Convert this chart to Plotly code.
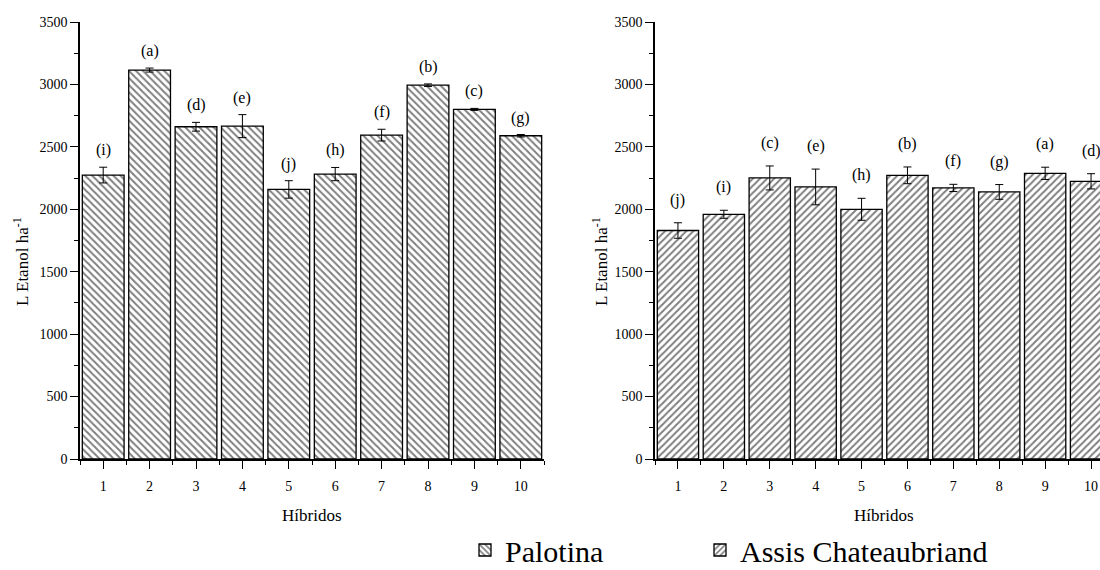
import plotly.graph_objects as go

hibridos = [1, 2, 3, 4, 5, 6, 7, 8, 9, 10]
palotina = [2274, 3115, 2661, 2666, 2159, 2282, 2594, 2994, 2800, 2589]
palotina_err = [63, 16, 35, 92, 70, 53, 47, 10, 8, 10]
palotina_letters = ["(i)", "(a)", "(d)", "(e)", "(j)", "(h)", "(f)", "(b)", "(c)", "(g)"]
assis = [1830, 1960, 2251, 2179, 2000, 2272, 2171, 2139, 2288, 2224]
assis_err = [62, 32, 96, 143, 88, 67, 29, 59, 49, 61]
assis_letters = ["(j)", "(i)", "(c)", "(e)", "(h)", "(b)", "(f)", "(g)", "(a)", "(d)"]
y_ticks = [0, 500, 1000, 1500, 2000, 2500, 3000, 3500]

FONT = "'Liberation Serif', 'Times New Roman', Times, serif"
W, H = 1100, 570
ML, MR, MT, MB = 80, 0, 22, 111
pw = W - ML - MR


def px_x(p):
    return (p - ML) / pw


fig = go.Figure()

fig.add_trace(go.Bar(
    x=hibridos, y=palotina, name="Palotina", xaxis="x", yaxis="y", legend="legend",
    width=0.9,
    marker=dict(color="white", line=dict(color="black", width=1.3),
                pattern=dict(shape="\\", fgcolor="black", bgcolor="white", size=5, solidity=0.4)),
    error_y=dict(type="data", array=palotina_err, color="black", thickness=1, width=4),
))
fig.add_trace(go.Bar(
    x=hibridos, y=assis, name="Assis Chateaubriand", xaxis="x2", yaxis="y2", legend="legend2",
    width=0.9,
    marker=dict(color="white", line=dict(color="black", width=1.3),
                pattern=dict(shape="/", fgcolor="black", bgcolor="white", size=5, solidity=0.4)),
    error_y=dict(type="data", array=assis_err, color="black", thickness=1, width=4),
))

annotations = []
for xv, yv, ev, t in zip(hibridos, palotina, palotina_err, palotina_letters):
    annotations.append(dict(x=xv, y=yv + ev, xref="x", yref="y", text=t, showarrow=False,
                            yanchor="middle", yshift=17, font=dict(family=FONT, size=16, color="black")))
for xv, yv, ev, t in zip(hibridos, assis, assis_err, assis_letters):
    annotations.append(dict(x=xv, y=yv + ev, xref="x2", yref="y2", text=t, showarrow=False,
                            yanchor="middle", yshift=23, font=dict(family=FONT, size=16, color="black")))

ytitle = "L Etanol ha<sup>-1</sup>"
for xp in (px_x(21), px_x(600)):
    annotations.append(dict(x=xp, y=(459 - 262) / 437, xref="paper", yref="paper", text=ytitle,
                            textangle=-90, showarrow=False, xanchor="center", yanchor="middle",
                            font=dict(family=FONT, size=17, color="black")))
for xp in (px_x(312), px_x(884)):
    annotations.append(dict(x=xp, y=(459 - 515) / 437, xref="paper", yref="paper", text="Híbridos",
                            showarrow=False, xanchor="center", yanchor="middle",
                            font=dict(family=FONT, size=17, color="black")))

axis_common = dict(showline=True, linecolor="black", linewidth=1.5, showgrid=False, zeroline=False,
                   ticks="outside", ticklen=8, tickwidth=1.2, tickcolor="black",
                   tickfont=dict(family=FONT, size=14, color="black"))
minor_x = dict(tick0=0.5, dtick=1, ticks="outside", ticklen=4, tickcolor="black", tickwidth=1.2)
minor_y = dict(dtick=250, ticks="outside", ticklen=4, tickcolor="black", tickwidth=1.2)
legend_common = dict(orientation="h", xref="container", yref="container", y=(H - 550) / H,
                     xanchor="left", yanchor="middle",
                     font=dict(family=FONT, size=30, color="black"), bgcolor="rgba(0,0,0,0)")

fig.update_layout(
    width=W, height=H,
    margin=dict(l=ML, r=MR, t=MT, b=MB),
    paper_bgcolor="white", plot_bgcolor="white",
    font=dict(family=FONT, color="black"),
    xaxis=dict(domain=[0, px_x(544)], range=[0.5, 10.5], tickvals=hibridos, anchor="y",
               minor=minor_x, ticklabelstandoff=5, **axis_common),
    yaxis=dict(domain=[0, 1], range=[0, 3500], tickvals=y_ticks, anchor="x",
               minor=minor_y, **axis_common),
    xaxis2=dict(domain=[px_x(655), 1], range=[0.5, 10.195], tickvals=hibridos, anchor="y2",
                minor=minor_x, ticklabelstandoff=5, **axis_common),
    yaxis2=dict(domain=[0, 1], range=[0, 3500], tickvals=y_ticks, anchor="x2",
                minor=minor_y, **axis_common),
    showlegend=True,
    legend=dict(x=465 / W, **legend_common),
    legend2=dict(x=700 / W, **legend_common),
    annotations=annotations,
)

fig.write_html("out.html")
